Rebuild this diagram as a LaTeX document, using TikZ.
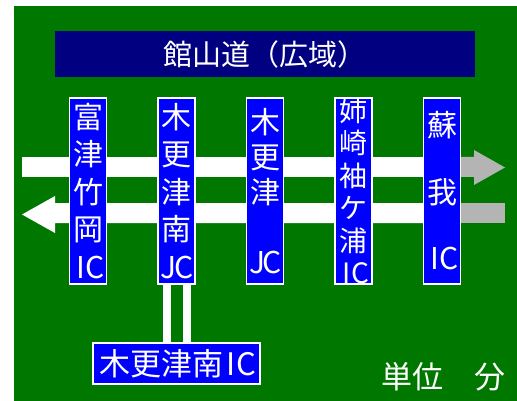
\documentclass[tikz,border=0pt]{standalone}
\usepackage{fontspec}
\setmainfont{Noto Sans CJK JP}
\definecolor{vertfond}{RGB}{0,120,0}
\definecolor{bleunuit}{RGB}{0,0,128}
\definecolor{bleuvif}{RGB}{0,0,255}
\definecolor{grisvoie}{RGB}{180,180,180}
\newcommand{\IC}{\makebox[0.5em]{I}\makebox[0.5em]{C}}
\newcommand{\JC}{\makebox[0.5em]{J}\makebox[0.5em]{C}}
\begin{document}
\begin{tikzpicture}[x=1pt,y=-1pt]
	\tikzstyle{titre}=[fill=bleunuit,text=white,minimum width=420,minimum height=46,inner sep=0,font=\fontsize{29}{29}\selectfont]
	\tikzstyle{sortie}=[fill=bleuvif,draw=white,line width=1.5pt,text=white,minimum width=37,minimum height=186,inner sep=0,align=center]
	\tikzstyle{bas}=[fill=bleuvif,draw=white,line width=1.5pt,text=white,minimum width=167,minimum height=41,inner sep=0,font=\fontsize{31}{31}\selectfont]
	\tikzstyle{voie}=[fill=white]
	\tikzstyle{voiegrise}=[fill=grisvoie]
	\tikzstyle{lien}=[draw=white,line width=8pt]
	\def\PasX{88.5}
	\def\XA{88}
	\def\YSorties{191}
	% fond
	\fill[white] (0,0) rectangle (517,401);
	\fill[vertfond] (14,6) rectangle (517,401);
	% voies
	\fill[voie] (22,157) rectangle (440,177);
	\fill[voiegrise] (440,157) -- (474,157) -- (474,150) -- (505,167.5) -- (474,185) -- (474,177) -- (440,177) -- cycle;
	\fill[voie] (22,214.5) -- (55,196) -- (55,203) -- (440,203) -- (440,223) -- (55,223) -- (55,233) -- cycle;
	\fill[voiegrise] (440,203) rectangle (505,223);
	% noeuds
	\node[titre] (T) at (265,54) {館山道（広域）};
	\node[sortie,font=\fontsize{30}{37.5}\selectfont] (Ft) at ({\XA+0*\PasX},\YSorties) {富\\津\\竹\\岡\\\IC};
	\node[sortie,font=\fontsize{30}{37.5}\selectfont] (Kmj) at ({\XA+1*\PasX},\YSorties) {木\\更\\津\\南\\\JC};
	\node[sortie,font=\fontsize{30}{35}\selectfont] (Kj) at ({\XA+2*\PasX},\YSorties) {木\\更\\津\\[35pt]\JC};
	\node[sortie,font=\fontsize{28}{32.4}\selectfont] (As) at ({\XA+3*\PasX},\YSorties) {姉\\崎\\袖\\ケ\\浦\\\IC};
	\node[sortie,font=\fontsize{30}{66.5}\selectfont] (Sg) at ({\XA+4*\PasX},\YSorties) {蘇\\我\\\IC};
	\node[bas] (Kmi) at (176.5,363.5) {木更津南\IC};
	\node[text=white,font=\fontsize{31}{31}\selectfont] (U) at (443,377) {単位　分};
	% liens
	\draw[lien] ([xshift=-10]Kmj.south) -- ([xshift=-10]Kmi.north);
	\draw[lien] ([xshift=10]Kmj.south) -- ([xshift=10]Kmi.north);
\end{tikzpicture}
\end{document}
